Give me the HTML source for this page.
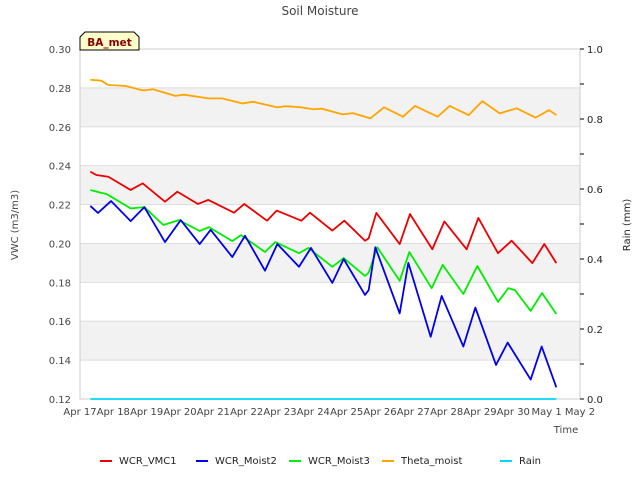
<!DOCTYPE html>
<html><head><meta charset="utf-8"><style>
body{margin:0;background:#fff;}
svg{font-family:"DejaVu Sans","Liberation Sans",sans-serif;}
</style></head><body>
<svg id="chart" width="640" height="480" xmlns="http://www.w3.org/2000/svg">
<text x="320" y="15" text-anchor="middle" font-size="12" fill="#444">Soil Moisture</text>
<g id="bands"></g>
<g id="grid"></g>
<rect x="80" y="49" width="500" height="350" fill="none" stroke="#ccc"/>
<g id="ticks"></g>
<g id="series"></g>
<text transform="translate(18,225) rotate(-90)" text-anchor="middle" font-size="10" fill="#444">VWC (m3/m3)</text>
<text transform="translate(630,225) rotate(-90)" text-anchor="middle" font-size="10" fill="#222">Rain (mm)</text>
<text x="566" y="433" text-anchor="middle" font-size="10" fill="#444">Time</text>
<g>
<path d="M80,50 L80,37 L85,32 L134,32 L139,37 L139,50 Z" fill="#ffffcc" stroke="#000" stroke-width="1"/>
<text x="109.5" y="46" text-anchor="middle" font-size="10.5" font-weight="bold" fill="#8b0000">BA_met</text>
</g>
<g id="legend"></g>
</svg>
<script>
const xTickLabels=["Apr 17","Apr 18","Apr 19","Apr 20","Apr 21","Apr 22","Apr 23","Apr 24","Apr 25","Apr 26","Apr 27","Apr 28","Apr 29","Apr 30","May 1","May 2"];
const yTicks=[0.12,0.14,0.16,0.18,0.20,0.22,0.24,0.26,0.28,0.30];
const rightTicks=[0,0.1,0.2,0.3,0.4,0.5,0.6,0.7,0.8,0.9,1.0];
const vmc1T=[0.31,0.49,0.85,1.52,1.88,2.55,2.92,3.54,3.85,4.62,4.93,5.61,5.90,6.64,6.90,7.57,7.93,8.55,8.66,8.89,9.59,9.90,10.57,10.93,11.60,11.95,12.54,12.95,13.57,13.93,14.29];
const vmc1V=[0.2369,0.2352,0.2343,0.2275,0.2309,0.2215,0.2266,0.2203,0.2224,0.2158,0.2203,0.2117,0.2169,0.2117,0.2158,0.2066,0.2117,0.2014,0.2026,0.2157,0.1997,0.2151,0.197,0.2113,0.197,0.2131,0.195,0.2014,0.1899,0.1997,0.1899];
const moist2T=[0.31,0.54,0.93,1.52,1.93,2.55,3.02,3.59,3.92,4.57,4.95,5.55,5.92,6.57,6.93,7.57,7.91,8.55,8.66,8.86,9.59,9.85,10.52,10.85,11.50,11.86,12.48,12.83,13.52,13.85,14.29];
const moist2V=[0.2193,0.2157,0.2218,0.2115,0.2187,0.2007,0.212,0.1997,0.207,0.193,0.204,0.186,0.1997,0.188,0.1977,0.1797,0.192,0.1735,0.176,0.198,0.164,0.190,0.152,0.173,0.147,0.167,0.1375,0.149,0.130,0.147,0.126];
const moist3T=[0.31,0.64,0.80,1.52,1.93,2.50,2.97,3.59,3.87,4.57,4.83,5.55,5.86,6.57,6.85,7.57,7.91,8.55,8.66,8.92,9.59,9.88,10.55,10.88,11.50,11.92,12.54,12.85,13.05,13.52,13.86,14.29];
const moist3V=[0.2275,0.226,0.2254,0.218,0.2187,0.2095,0.212,0.2064,0.2084,0.2012,0.2043,0.1956,0.2007,0.195,0.1977,0.188,0.1925,0.1833,0.185,0.198,0.1808,0.1956,0.177,0.189,0.174,0.1884,0.1699,0.177,0.176,0.1653,0.1745,0.1637];
const thetaT=[0.31,0.64,0.85,1.37,1.83,1.93,2.19,2.86,3.12,3.85,4.26,4.88,5.19,5.92,6.17,6.64,7.00,7.26,7.88,8.19,8.71,9.12,9.69,10.05,10.73,11.09,11.66,12.07,12.59,13.10,13.67,14.07,14.29];
const thetaV=[0.2842,0.2837,0.2815,0.281,0.2789,0.2787,0.2793,0.2759,0.2765,0.2746,0.2746,0.272,0.2729,0.270,0.2706,0.270,0.269,0.2693,0.2664,0.267,0.2643,0.270,0.2652,0.2707,0.2652,0.2707,0.266,0.2732,0.2669,0.2695,0.2647,0.2686,0.266];
const rainT=[0.31,14.29];
const rainV=[0,0];
const NS="http://www.w3.org/2000/svg";
const X0=80,X1=580,Y0=399,Y1=49;
function xs(t){return X0+t*(X1-X0)/15;}
function ys(v){return Y0-(v-0.12)/(0.30-0.12)*(Y0-Y1);}
function yr(v){return Y0-v*(Y0-Y1);}
function mk(tag,attrs,parent){const e=document.createElementNS(NS,tag);for(const k in attrs)e.setAttribute(k,attrs[k]);parent.appendChild(e);return e;}
const bands=document.getElementById('bands'),grid=document.getElementById('grid'),ticks=document.getElementById('ticks'),series=document.getElementById('series'),legend=document.getElementById('legend');
for(let i=0;i<yTicks.length-1;i++){
  if(i%2===1){const r=mk('rect',{x:X0,y:ys(yTicks[i+1]),width:X1-X0,height:ys(yTicks[i])-ys(yTicks[i+1]),fill:'#f2f2f2'},bands);
  
  }
}
yTicks.forEach(v=>{
  const l=mk('line',{x1:X0,x2:X1,y1:ys(v),y2:ys(v),stroke:'#ddd'},grid);
  
  
  const t=mk('text',{x:X0-9,y:ys(v)+4,'text-anchor':'end','font-size':10,fill:'#444'},ticks);
  t.textContent=v.toFixed(2);
  
  
});
rightTicks.forEach((v,i)=>{
  const l=mk('line',{x1:X1,x2:X1+4,y1:yr(v),y2:yr(v),stroke:'#000'},ticks);
  
  
  if(i%2===0){const t=mk('text',{x:X1+7,y:yr(v)+4,'font-size':10,fill:'#222'},ticks);
  t.textContent=v.toFixed(1);
  
  }
});
xTickLabels.forEach((s,i)=>{
  const t=mk('text',{x:xs(i),y:415,'text-anchor':'middle','font-size':10,fill:'#444'},ticks);
  t.textContent=s;
  
  
});
function line(T,V,color,name,scale){
  const p=mk('polyline',{points:T.map((t,i)=>xs(t)+','+scale(V[i])).join(' '),fill:'none',stroke:color,'stroke-width':1.8,'stroke-linejoin':'round'},series);
  
  
}
line(rainT,rainV,'#00d8ff','rain-line',yr);
line(thetaT,thetaV,'orange','theta-moist-line',ys);
line(moist3T,moist3V,'#00ee00','wcr-moist3-line',ys);
line(moist2T,moist2V,'#0000ee','wcr-moist2-line',ys);
line(vmc1T,vmc1V,'#ee0000','wcr-vmc1-line',ys);
const leg=[["WCR_VMC1","#ee0000",100],["WCR_Moist2","#0000ee",196],["WCR_Moist3","#00ee00",289],["Theta_moist","orange",382],["Rain","#00d8ff",500]];
leg.forEach(e=>{
  const g=mk('g',{},legend);
  
  
  mk('line',{x1:e[2],x2:e[2]+12,y1:461,y2:461,stroke:e[1],'stroke-width':2},g);
  const t=mk('text',{x:e[2]+19,y:464,'font-size':10,fill:'#222'},g);
  t.textContent=e[0];
});
</script>
</body></html>
